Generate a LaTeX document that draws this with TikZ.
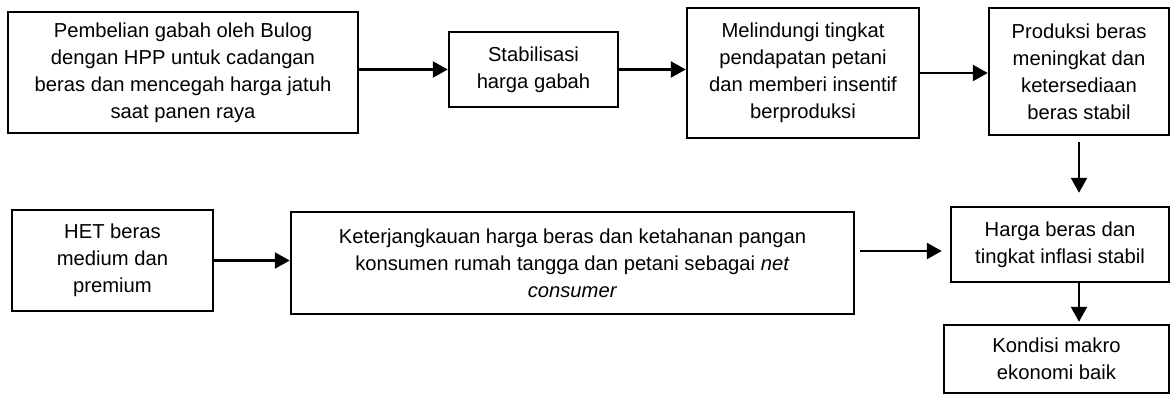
\documentclass[tikz,border=0pt]{standalone}
\usepackage{fontspec}
\setmainfont{Liberation Sans}
\usetikzlibrary{arrows.meta}
\tikzset{
  box/.style={draw, line width=1.4pt, align=center, inner sep=0pt, font=\fontsize{11.5}{15.3}\selectfont},
  arr/.style={line width=1.4pt, -{Triangle[length=0.3cm,width=0.32cm]}}
}
\begin{document}
\begin{tikzpicture}
\useasboundingbox (0,0) rectangle (23.44,-7.88);

\node[box, minimum width=7cm, minimum height=2.42cm] (pembelian) at (3.66,-1.45) {Pembelian gabah oleh Bulog\\dengan HPP untuk cadangan\\beras dan mencegah harga jatuh\\saat panen raya};
\node[box, minimum width=3.38cm, minimum height=1.5cm] (stabilisasi) at (10.67,-1.39) {Stabilisasi\\harga gabah};
\node[box, minimum width=4.64cm, minimum height=2.6cm] (melindungi) at (16.06,-1.46) {Melindungi tingkat\\pendapatan petani\\dan memberi insentif\\berproduksi};
\node[box, minimum width=3.6cm, minimum height=2.54cm] (produksi) at (21.58,-1.43) {Produksi beras\\meningkat dan\\ketersediaan\\beras stabil};

\node[box, minimum width=4.02cm, minimum height=2.02cm] (het) at (2.25,-5.21) {HET beras\\medium dan\\premium};
\node[box, minimum width=11.26cm, minimum height=2.04cm] (keterjangkauan) at (11.45,-5.26) {Keterjangkauan harga beras dan ketahanan pangan\\konsumen rumah tangga dan petani sebagai \textit{net}\\\textit{consumer}};
\node[box, minimum width=4.36cm, minimum height=1.5cm] (harga) at (21.2,-4.89) {Harga beras dan\\tingkat inflasi stabil};
\node[box, minimum width=4.5cm, minimum height=1.36cm] (kondisi) at (21.13,-7.18) {Kondisi makro\\ekonomi baik};

\draw[arr] (pembelian.east |- stabilisasi) -- (stabilisasi);
\draw[arr] (stabilisasi) -- (stabilisasi -| melindungi.west);
\draw[arr] (melindungi) -- (melindungi -| produksi.west);
\draw[arr, shorten <=0.12cm, shorten >=0.26cm] (produksi) -- (produksi |- harga.north);

\draw[arr] (het) -- (het -| keterjangkauan.west);
\draw[arr, shorten <=0.1cm, shorten >=0.16cm] ([yshift=0.24cm]keterjangkauan.east) -- ([yshift=0.24cm]keterjangkauan.east -| harga.west);
\draw[arr, shorten >=0.04cm] (produksi |- harga.south) -- (produksi |- kondisi.north);

\end{tikzpicture}
\end{document}
